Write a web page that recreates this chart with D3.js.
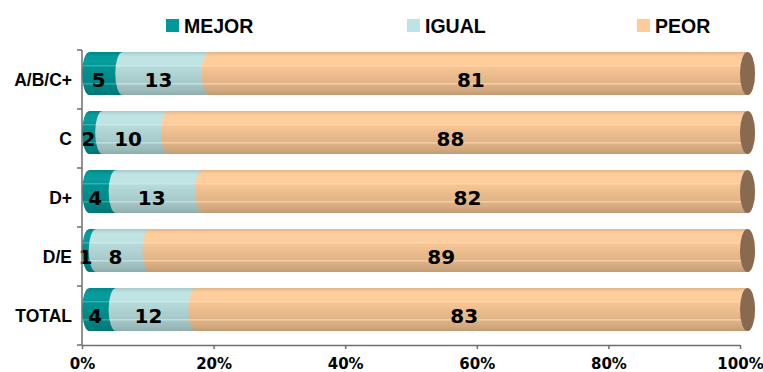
<!DOCTYPE html>
<html>
<head>
<meta charset="utf-8">
<script src="https://cdn.jsdelivr.net/npm/d3@7"></script>
<style>
  html, body { margin: 0; padding: 0; background: #fff; }
  svg { display: block; }
</style>
</head>
<body>
<svg id="chart" width="763" height="372"></svg>
<script>
// Survey answers by socioeconomic level (percent)
const categories = ["A/B/C+", "C", "D+", "D/E", "TOTAL"];
const mejor = [5, 2, 4, 1, 4];
const igual = [13, 10, 13, 8, 12];
const peor  = [81, 88, 82, 89, 83];
const seriesNames = ["MEJOR", "IGUAL", "PEOR"];
const seriesColors = ["#009999", "#bde3e3", "#ffcc99"];
const xTickValues = [0, 0.2, 0.4, 0.6, 0.8, 1];

const svg = d3.select("#chart");

const plot = { left: 82, right: 740, top: 50, bottom: 345 };

const rows = categories.map((c, i) => ({ cat: c, MEJOR: mejor[i], IGUAL: igual[i], PEOR: peor[i] }));
const stacked = d3.stack().keys(seriesNames).offset(d3.stackOffsetExpand)(rows);

const x = d3.scaleLinear().domain([0, 1]).range([plot.left, plot.right]);
const y = d3.scaleBand().domain(categories).range([plot.top, plot.bottom]).padding(0);
const color = d3.scaleOrdinal().domain(seriesNames).range(seriesColors);

// Cylinder geometry relative to each band
const barTopOff = 2, barH = 43, capRx = 7.5;

// Striped cylinder shading: one vertical gradient per series
const defs = svg.append("defs");
function shade(base) {
  const c = d3.color(base);
  const mix = (k) => k >= 0 ? d3.interpolateRgb(c, "#ffffff")(k) : d3.interpolateRgb(c, "#000000")(-k);
  return [
    [0.00, mix(-0.12)], [0.05, mix(-0.05)], [0.10, mix(0.02)], [0.22, mix(0.04)],
    [0.30, mix(0.00)], [0.32, mix(0.30)], [0.345, mix(-0.03)], [0.45, mix(-0.06)],
    [0.58, mix(-0.09)], [0.72, mix(-0.12)], [0.74, mix(0.28)], [0.765, mix(-0.13)],
    [0.88, mix(-0.17)], [1.00, mix(-0.24)]
  ];
}
seriesNames.forEach((s, i) => {
  const g = defs.append("linearGradient")
    .attr("id", "grad" + i).attr("x1", 0).attr("y1", 0).attr("x2", 0).attr("y2", 1);
  g.selectAll("stop").data(shade(seriesColors[i])).join("stop")
    .attr("offset", d => d[0]).attr("stop-color", d => d[1]);
});

function segPath(x0, x1, yt, yb) {
  const ry = (yb - yt) / 2;
  return `M${x0 + capRx},${yt} A${capRx},${ry} 0 0 0 ${x0 + capRx},${yb} ` +
         `L${x1 + capRx},${yb} A${capRx},${ry} 0 0 0 ${x1 + capRx},${yt} Z`;
}

// Bars
const barG = svg.append("g");
stacked.forEach((layer, si) => {
  barG.append("g").selectAll("path").data(layer).join("path")
    .attr("d", d => {
      const yt = y(d.data.cat) + barTopOff;
      return segPath(x(d[0]), x(d[1]), yt, yt + barH);
    })
    .attr("fill", `url(#grad${si})`);
});

// Visible end caps of the cylinders
barG.append("g").selectAll("ellipse").data(rows).join("ellipse")
  .attr("cx", x(1) + capRx)
  .attr("cy", d => y(d.cat) + barTopOff + barH / 2)
  .attr("rx", capRx)
  .attr("ry", barH / 2)
  .attr("fill", "#876a4f");

// Value labels
const labG = svg.append("g")
  .attr("font-family", "'DejaVu Sans', Verdana, sans-serif")
  .attr("font-weight", "bold").attr("font-size", 20).attr("fill", "#000")
  .attr("text-anchor", "middle");
stacked.forEach((layer) => {
  labG.append("g").selectAll("text").data(layer).join("text")
    .attr("x", d => (x(d[0]) + x(d[1])) / 2)
    .attr("y", d => y(d.data.cat) + y.bandwidth() / 2)
    .attr("dy", "0.36em")
    .text(d => d.data[layer.key]);
});

// Axes
const axisColor = "#6e6e6e";
const xAxis = svg.append("g")
  .attr("transform", `translate(0,${plot.bottom})`)
  .call(d3.axisBottom(x).tickValues(xTickValues).tickFormat(d3.format(".0%")).tickSizeInner(4).tickSizeOuter(0).tickPadding(9));
xAxis.select(".domain").attr("stroke", axisColor).attr("stroke-width", 1.5);
xAxis.selectAll(".tick line").attr("stroke", axisColor).attr("stroke-width", 1.5);
xAxis.selectAll(".tick text")
  .attr("font-family", "'DejaVu Sans', Verdana, sans-serif")
  .attr("font-weight", "bold").attr("font-size", 15).attr("fill", "#000");

const yAxisG = svg.append("g").attr("transform", `translate(${plot.left},0)`);
yAxisG.append("line")
  .attr("x1", 0).attr("x2", 0).attr("y1", plot.top).attr("y2", plot.bottom)
  .attr("stroke", axisColor).attr("stroke-width", 1.5);
const edges = categories.map(c => y(c)).concat([y(categories[categories.length - 1]) + y.bandwidth()]);
yAxisG.selectAll("line.tk").data(edges).join("line").attr("class", "tk")
  .attr("x1", -5).attr("x2", 0).attr("y1", d => d).attr("y2", d => d)
  .attr("stroke", axisColor).attr("stroke-width", 1.5);
yAxisG.selectAll("text").data(categories).join("text")
  .attr("x", -10)
  .attr("y", d => y(d) + y.bandwidth() / 2)
  .attr("dy", "0.36em")
  .attr("text-anchor", "end")
  .attr("font-family", "'Liberation Sans', Arial, sans-serif")
  .attr("font-weight", "bold").attr("font-size", 17.5).attr("fill", "#000")
  .text(d => d);

// Legend: square swatch plus bold label
const legendX = [166, 407, 637];
const legend = svg.append("g");
seriesNames.forEach((s, i) => {
  legend.append("rect")
    .attr("x", legendX[i]).attr("y", 19).attr("width", 13).attr("height", 13)
    .attr("fill", color(s));
  legend.append("text")
    .attr("x", legendX[i] + 18).attr("y", 32.5)
    .attr("font-family", "'Liberation Sans', Arial, sans-serif")
    .attr("font-weight", "bold").attr("font-size", 19.5).attr("fill", "#000")
    .text(s);
});
</script>
</body>
</html>
